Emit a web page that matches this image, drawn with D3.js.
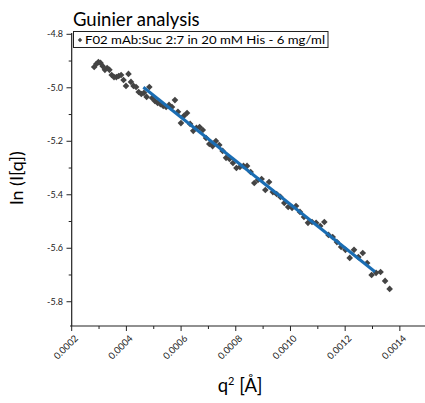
<!DOCTYPE html>
<html><head><meta charset="utf-8">
<script src="https://cdn.jsdelivr.net/npm/d3@7"></script>
<style>body{margin:0;background:#fff}svg{display:block}text{font-family:Lato,"Open Sans",sans-serif}</style>
</head><body><svg id="c" width="425" height="403"></svg>
<script>
const titleText = "Guinier analysis";
const seriesName = "F02 mAb:Suc 2:7 in 20 mM His - 6 mg/ml";
const q2 = [0.00028224,0.00028988,0.00029763,0.00030548,0.00031343,0.00032148,0.00032964,0.00033790,0.00034626,0.00035472,
0.00036328,0.00037195,0.00038072,0.00038959,0.00039856,0.00040764,0.00041681,0.00042609,0.00043547,0.00044496,
0.00045454,0.00046423,0.00047402,0.00048391,0.00049391,0.00050400,0.00051420,0.00052450,0.00053490,0.00054541,
0.00055602,0.00056673,0.00057754,0.00058845,0.00059947,0.00061058,0.00062180,0.00063313,0.00064455,0.00065608,
0.00066771,0.00067944,0.00069127,0.00070320,0.00071524,0.00072738,0.00073962,0.00075197,0.00076441,0.00077696,
0.00078961,0.00080236,0.00081522,0.00082817,0.00084123,0.00085439,0.00086766,0.00088102,0.00089449,0.00090806,
0.00092173,0.00093550,0.00094938,0.00096336,0.00097744,0.00099162,0.00100590,0.00102029,0.00103478,0.00104937,
0.00106406,0.00107886,0.00109376,0.00110876,0.00112386,0.00113906,0.00115437,0.00116978,0.00118529,0.00120090,
0.00121661,0.00123243,0.00124835,0.00126437,0.00128049,0.00129672,0.00131305,0.00132948,0.00134601,0.00136264];
const lnI = [-4.922,-4.911,-4.904,-4.907,-4.919,-4.933,-4.926,-4.933,-4.952,-4.960,
-4.960,-4.956,-4.952,-4.971,-4.993,-4.948,-4.978,-4.993,-4.997,-5.016,
-5.023,-5.019,-5.034,-4.997,-5.038,-5.049,-5.057,-5.061,-5.068,-5.072,
-5.064,-5.072,-5.046,-5.090,-5.132,-5.105,-5.094,-5.135,-5.161,-5.150,
-5.147,-5.158,-5.188,-5.210,-5.218,-5.199,-5.214,-5.236,-5.262,-5.266,
-5.281,-5.300,-5.296,-5.292,-5.292,-5.315,-5.356,-5.345,-5.341,-5.382,
-5.352,-5.390,-5.397,-5.408,-5.431,-5.446,-5.449,-5.442,-5.464,-5.483,
-5.505,-5.502,-5.505,-5.517,-5.502,-5.550,-5.558,-5.577,-5.595,-5.606,
-5.636,-5.606,-5.633,-5.618,-5.655,-5.700,-5.692,-5.689,-5.722,-5.752];
const fitX = [0.000462, 0.001309];
const fitY = [-4.998, -5.688];
const xTicks = [0.0002,0.0004,0.0006,0.0008,0.0010,0.0012,0.0014];
const xTickLabels = ["0.0002","0.0004","0.0006","0.0008","0.0010","0.0012","0.0014"];
const xMinor = [0.0003,0.0005,0.0007,0.0009,0.0011,0.0013];
const yTicks = [-4.8,-5.0,-5.2,-5.4,-5.6,-5.8];
const yTickLabels = ["-4.8","-5.0","-5.2","-5.4","-5.6","-5.8"];
const yMinor = [-4.9,-5.1,-5.3,-5.5,-5.7];

const svg = d3.select("#c");
const x = d3.scaleLinear().domain([0.0002, 0.0015]).range([71.7, 427.2]);
const y = d3.scaleLinear().domain([-5.8907, -4.8]).range([326, 34.3]);
const axisCol = "#222";

svg.append("line").attr("x1",70).attr("x2",425).attr("y1",326).attr("y2",326).attr("stroke",axisCol).attr("stroke-width",1.2);
svg.append("line").attr("x1",71.7).attr("x2",71.7).attr("y1",33).attr("y2",326).attr("stroke",axisCol).attr("stroke-width",1.2);

const gx = svg.append("g");
xTicks.forEach((t,i)=>{
  const px = x(t);
  gx.append("line").attr("x1",px).attr("x2",px).attr("y1",326).attr("y2",331).attr("stroke",axisCol);
  gx.append("text").attr("transform",`translate(${px+7},${339}) rotate(-45)`).attr("text-anchor","end")
    .attr("font-size",9.5).attr("fill","#222").text(xTickLabels[i]);
});
xMinor.forEach(t=>{
  const px=x(t);
  gx.append("line").attr("x1",px).attr("x2",px).attr("y1",326).attr("y2",329).attr("stroke",axisCol);
});
const gy = svg.append("g");
yTicks.forEach((t,i)=>{
  const py=y(t);
  gy.append("line").attr("x1",66.5).attr("x2",71.7).attr("y1",py).attr("y2",py).attr("stroke",axisCol);
  gy.append("text").attr("x",63).attr("y",py+3).attr("text-anchor","end").attr("font-size",9).attr("fill","#222").text(yTickLabels[i]);
});
yMinor.forEach(t=>{
  const py=y(t);
  gy.append("line").attr("x1",68.7).attr("x2",71.7).attr("y1",py).attr("y2",py).attr("stroke",axisCol);
});

const diamond = "M0,-3.3L3.3,0L0,3.3L-3.3,0Z";
svg.append("g").selectAll("path").data(q2.map((d,i)=>[d,lnI[i]])).join("path")
  .attr("d",diamond).attr("transform",d=>`translate(${x(d[0])},${y(d[1])})`).attr("fill","#444");

svg.append("line").attr("x1",x(fitX[0])).attr("y1",y(fitY[0])).attr("x2",x(fitX[1])).attr("y2",y(fitY[1]))
  .attr("stroke","#1a6db3").attr("stroke-width",3);

svg.append("text").attr("x",73).attr("y",26).attr("font-size",18.5).attr("fill","#000").text(titleText);

svg.append("rect").attr("x",73.5).attr("y",31.5).attr("width",254.5).attr("height",16).attr("fill","#fff").attr("stroke","#222").attr("stroke-width",1);
svg.append("path").attr("d","M0,-2.2L2.2,0L0,2.2L-2.2,0Z").attr("transform","translate(80,40)").attr("fill","#444");
svg.append("text").attr("x",85).attr("y",44).attr("font-size",11.5).attr("fill","#000")
  .attr("textLength",240).attr("lengthAdjust","spacingAndGlyphs").text(seriesName);

svg.append("text").attr("transform","translate(23,178) rotate(-90)").attr("text-anchor","middle")
  .attr("font-size",18).attr("fill","#000").text("ln (I[q])");
const xl = svg.append("text").attr("x",240).attr("y",392).attr("text-anchor","middle").attr("font-size",18.5).attr("fill","#000");
xl.append("tspan").text("q");
xl.append("tspan").attr("dy",-7).attr("font-size",11).text("2");
xl.append("tspan").attr("dy",7).text(" [Å]");
</script></body></html>
